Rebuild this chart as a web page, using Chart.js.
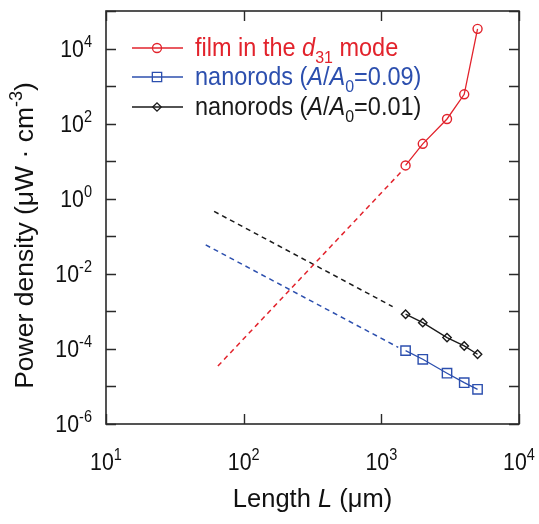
<!DOCTYPE html>
<html>
<head>
<meta charset="utf-8">
<script src="https://cdn.jsdelivr.net/npm/chart.js@4"></script>
<style>
html,body{margin:0;padding:0;background:#fff;}
#wrap{width:539px;height:524px;position:relative;}
</style>
</head>
<body>
<div id="wrap"><canvas id="c" width="539" height="524"></canvas></div>
<script>
// ---- data ----
const lengths = [1500, 2000, 3000, 4000, 5000];
const filmD31 = [7.7, 29, 133, 604, 33500];
const rods009 = [9.0e-5, 5.3e-5, 2.25e-5, 1.26e-5, 8.4e-6];
const rods001 = [8.4e-4, 5.0e-4, 2.0e-4, 1.2e-4, 7.2e-5];
const filmTrendX = [65, 1380];
const filmTrendY = [3.5e-5, 5.0];
const rods009TrendX = [53, 1327];
const rods009TrendY = [0.059, 1.1e-4];
const rods001TrendX = [61, 1208];
const rods001TrendY = [0.46, 1.34e-3];
const xTickExps = [1, 2, 3, 4];
const yTickExps = [-6, -5, -4, -3, -2, -1, 0, 1, 2, 3, 4, 5];
const yLabelExps = [-6, -4, -2, 0, 2, 4];
const legendLabels = [
  [{t:'film in the '}, {t:'d', i:true}, {t:'31', sub:true}, {t:' mode'}],
  [{t:'nanorods ('}, {t:'A', i:true}, {t:'/'}, {t:'A', i:true}, {t:'0', sub:true}, {t:'=0.09)'}],
  [{t:'nanorods ('}, {t:'A', i:true}, {t:'/'}, {t:'A', i:true}, {t:'0', sub:true}, {t:'=0.01)'}]
];
const xTitle = [{t:'Length '}, {t:'L', i:true}, {t:' (μm)'}];
const yTitle = [{t:'Power density (μW · cm'}, {t:'-3', sup:true}, {t:')'}];

const RED = '#e2232c', BLUE = '#2c4fae', BLACK = '#1a1a1a';
const FONT = "'Liberation Sans', Arial, sans-serif";

function pts(xs, ys){ return xs.map((x,i)=>({x:x, y:ys[i]})); }

function richWidth(ctx, segs, size){
  let w = 0;
  for (const s of segs){
    const fs = (s.sub||s.sup) ? size*0.68 : size;
    ctx.font = (s.i?'italic ':'') + fs + 'px ' + FONT;
    w += ctx.measureText(s.t).width;
  }
  return w;
}
// draws rich text with its baseline-left at (x,y); sx/sy stretch the glyphs
function drawRich(ctx, segs, x, y, size, color, sx, sy){
  sx = sx || 1; sy = sy || 1;
  ctx.save();
  ctx.translate(x, y);
  ctx.scale(sx, sy);
  ctx.fillStyle = color;
  ctx.textBaseline = 'alphabetic';
  ctx.textAlign = 'left';
  let cx = 0;
  for (const s of segs){
    const fs = (s.sub||s.sup) ? size*0.68 : size;
    ctx.font = (s.i?'italic ':'') + fs + 'px ' + FONT;
    let dy = 0;
    if (s.sub) dy = size*0.28;
    if (s.sup) dy = -size*0.42;
    ctx.fillText(s.t, cx, dy);
    cx += ctx.measureText(s.t).width;
  }
  ctx.restore();
}
function powLabel(e){ return [{t:'10'}, {t:String(e), sup:true}]; }

const framePlugin = {
  id: 'frame',
  afterDraw(chart){
    const ctx = chart.ctx, a = chart.chartArea;
    const xs = chart.scales.x, ys = chart.scales.y;
    ctx.save();
    ctx.strokeStyle = '#2a2a2a';
    ctx.lineWidth = 1.6;
    ctx.strokeRect(a.left, a.top, a.right - a.left, a.bottom - a.top);
    const TL = 10;
    ctx.lineWidth = 1.4;
    ctx.beginPath();
    for (const e of xTickExps){
      const px = Math.round(xs.getPixelForValue(Math.pow(10, e))) + 0.5;
      ctx.moveTo(px, a.bottom); ctx.lineTo(px, a.bottom - TL);
      ctx.moveTo(px, a.top); ctx.lineTo(px, a.top + TL);
    }
    for (const e of yTickExps){
      const py = Math.round(ys.getPixelForValue(Math.pow(10, e))) + 0.5;
      ctx.moveTo(a.left, py); ctx.lineTo(a.left + TL, py);
      ctx.moveTo(a.right, py); ctx.lineTo(a.right - TL, py);
    }
    ctx.stroke();
    const FS = 22, SX = 0.97, SY = 1.08;
    // x tick labels
    for (const e of xTickExps){
      const px = xs.getPixelForValue(Math.pow(10, e));
      const segs = powLabel(e);
      const w = richWidth(ctx, segs, FS) * SX;
      drawRich(ctx, segs, px - w/2, a.bottom + 46, FS, '#111', SX, SY);
    }
    // y tick labels
    for (const e of yLabelExps){
      const py = ys.getPixelForValue(Math.pow(10, e));
      const segs = powLabel(e);
      const w = richWidth(ctx, segs, FS) * SX;
      drawRich(ctx, segs, a.left - 14 - w, py + 8, FS, '#111', SX, SY);
    }
    // axis titles
    const TS = 25.5;
    const wx = richWidth(ctx, xTitle, TS);
    drawRich(ctx, xTitle, (a.left + a.right)/2 - wx/2, 507, TS, '#111');
    const wy = richWidth(ctx, yTitle, 26.5);
    ctx.save();
    ctx.translate(33, 235.5);
    ctx.rotate(-Math.PI/2);
    drawRich(ctx, yTitle, -wy/2, 0, 26.5, '#111');
    ctx.restore();
    // legend
    const colors = [RED, BLUE, BLACK];
    const styles = ['circle', 'rect', 'rectRot'];
    const radii = [4.5, 6.6, 4.2];
    const rowY = [48, 77, 107];
    for (let i = 0; i < 3; i++){
      const y = rowY[i];
      ctx.strokeStyle = colors[i];
      ctx.fillStyle = 'rgba(0,0,0,0)';
      ctx.lineWidth = 1.3;
      ctx.beginPath(); ctx.moveTo(132, y); ctx.lineTo(183, y); ctx.stroke();
      Chart.helpers.drawPoint(ctx, {pointStyle: styles[i], radius: radii[i], borderWidth: 1.3}, 157, y);
      drawRich(ctx, legendLabels[i], 195, y + 8, 23.5, colors[i], 1, 1.06);
    }
    ctx.restore();
  }
};

function solid(data, color, style, r){
  return {data, borderColor: color, backgroundColor: 'rgba(0,0,0,0)', borderWidth: 1.3,
    pointStyle: style, pointRadius: r, pointBorderColor: color, pointBackgroundColor: 'rgba(0,0,0,0)',
    pointBorderWidth: 1.4, tension: 0, fill: false};
}
function dashed(data, color){
  return {data, borderColor: color, borderWidth: 1.5, borderDash: [5, 4], pointRadius: 0, fill: false, tension: 0};
}

new Chart(document.getElementById('c'), {
  type: 'line',
  data: {
    datasets: [
      dashed(pts(filmTrendX, filmTrendY), RED),
      dashed(pts(rods009TrendX, rods009TrendY), BLUE),
      dashed(pts(rods001TrendX, rods001TrendY), BLACK),
      solid(pts(lengths, filmD31), RED, 'circle', 4.5),
      solid(pts(lengths, rods009), BLUE, 'rect', 6.6),
      solid(pts(lengths, rods001), BLACK, 'rectRot', 4.2)
    ]
  },
  options: {
    responsive: false,
    animation: false,
    layout: {padding: {top: 11, right: 20, left: 0, bottom: 0}},
    plugins: {legend: {display: false}, tooltip: {enabled: false}},
    scales: {
      x: {type: 'logarithmic', min: 10, max: 10000,
          ticks: {display: false}, grid: {display: false}, border: {display: false},
          afterFit(s){ s.height = 100; }},
      y: {type: 'logarithmic', min: 1e-6, max: 1e5,
          ticks: {display: false}, grid: {display: false}, border: {display: false},
          afterFit(s){ s.width = 106; }}
    }
  },
  plugins: [framePlugin]
});
</script>
</body>
</html>
